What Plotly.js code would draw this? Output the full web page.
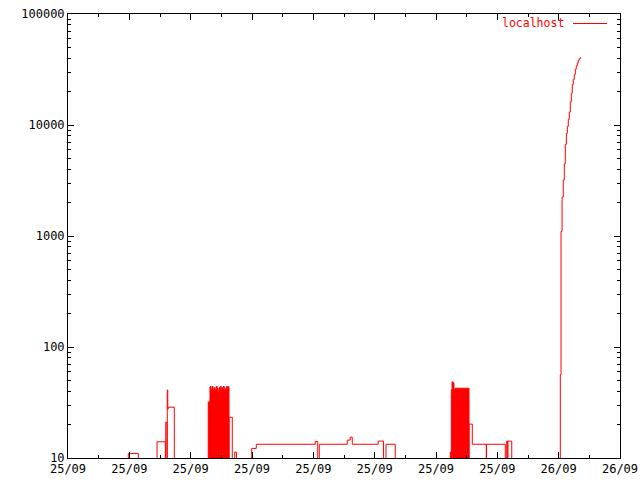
<!DOCTYPE html>
<html>
<head>
<meta charset="utf-8">
<script src="https://cdn.plot.ly/plotly-3.0.1.min.js"></script>
<style>html,body{margin:0;padding:0;background:#fff;}#chart{width:640px;height:480px;}</style>
</head>
<body>
<div id="chart"></div>
<script>
// Main step series (1 = idle / below axis)
const mainTimes = [
  "2023-09-25 22:40:00","2023-09-25 22:49:50","2023-09-25 22:51:28","2023-09-25 22:54:31",
  "2023-09-25 22:55:52","2023-09-25 22:55:56","2023-09-25 22:56:08","2023-09-25 22:56:11",
  "2023-09-25 22:56:16","2023-09-25 22:56:20","2023-09-25 22:57:20",
  "2023-09-25 23:06:15","2023-09-25 23:06:47","2023-09-25 23:07:11","2023-09-25 23:07:28",
  "2023-09-25 23:09:57","2023-09-25 23:10:42","2023-09-25 23:20:19","2023-09-25 23:20:43",
  "2023-09-25 23:20:58","2023-09-25 23:25:32","2023-09-25 23:26:01","2023-09-25 23:26:21",
  "2023-09-25 23:30:35","2023-09-25 23:31:26","2023-09-25 23:31:51","2023-09-25 23:33:21",
  "2023-09-25 23:45:23","2023-09-25 23:45:55","2023-09-25 23:48:12","2023-09-25 23:48:14",
  "2023-09-25 23:51:18","2023-09-25 23:51:32","2023-09-25 23:51:41","2023-09-25 23:51:43",
  "2023-09-25 23:52:21",
  "2023-09-26 00:00:16","2023-09-26 00:00:23","2023-09-26 00:00:33","2023-09-26 00:00:45",
  "2023-09-26 00:00:55","2023-09-26 00:01:05","2023-09-26 00:01:15","2023-09-26 00:01:25",
  "2023-09-26 00:01:34","2023-09-26 00:01:44","2023-09-26 00:01:54","2023-09-26 00:02:04",
  "2023-09-26 00:02:13","2023-09-26 00:02:23","2023-09-26 00:02:33","2023-09-26 00:02:43",
  "2023-09-26 00:02:52","2023-09-26 00:03:02","2023-09-26 00:03:12","2023-09-26 00:03:22",
  "2023-09-26 00:03:35","2023-09-26 00:03:40"
];
const mainValues = [
  1, 11, 1, 14,
  1, 21, 1, 41,
  27.6, 28.7, 1,
  23.3, 1, 11.3, 1,
  12.2, 13.3, 14.1, 1,
  13.3, 14.5, 15.4, 13.3,
  14.2, 1, 13.3, 1,
  20.2, 13.3, 1, 13.3,
  1, 14.2, 1, 14.2,
  1,
  56, 1100, 2240, 3200,
  4460, 6700, 8400, 9700,
  11250, 13100, 16200, 19300,
  23100, 25800, 28600, 31800,
  34000, 36200, 38300, 39900,
  40500, 40500
];

// Dense burst 1 (solid block)
const burst1Times = [
  "2023-09-25 23:02:52","2023-09-25 23:02:52","2023-09-25 23:03:09","2023-09-25 23:03:19",
  "2023-09-25 23:03:29","2023-09-25 23:03:39","2023-09-25 23:03:49","2023-09-25 23:03:59",
  "2023-09-25 23:04:09","2023-09-25 23:04:19","2023-09-25 23:04:29","2023-09-25 23:04:39",
  "2023-09-25 23:04:49","2023-09-25 23:04:59","2023-09-25 23:05:09","2023-09-25 23:05:19",
  "2023-09-25 23:05:29","2023-09-25 23:05:39","2023-09-25 23:05:49","2023-09-25 23:05:59",
  "2023-09-25 23:06:09","2023-09-25 23:06:15"
];
const burst1Values = [
  1, 32, 44, 41,
  44, 41, 43, 41,
  44, 42, 40, 43,
  44, 41, 43, 44,
  41, 42, 44, 42,
  44, 1
];

// Dense burst 2 (solid block)
const burst2Times = [
  "2023-09-25 23:42:20","2023-09-25 23:42:20","2023-09-25 23:42:30","2023-09-25 23:42:37",
  "2023-09-25 23:42:49","2023-09-25 23:42:56","2023-09-25 23:43:06","2023-09-25 23:44:00",
  "2023-09-25 23:45:00","2023-09-25 23:45:23"
];
const burst2Values = [1, 11.3, 41, 48.5, 47, 41, 42.5, 42.5, 42.5, 1];

const xTickVals = [
  "2023-09-25 22:40","2023-09-25 22:50","2023-09-25 23:00","2023-09-25 23:10","2023-09-25 23:20",
  "2023-09-25 23:30","2023-09-25 23:40","2023-09-25 23:50","2023-09-26 00:00","2023-09-26 00:10"
];
const xTickText = [
  "25/09<br>22:40","25/09<br>22:50","25/09<br>23:00","25/09<br>23:10","25/09<br>23:20",
  "25/09<br>23:30","25/09<br>23:40","25/09<br>23:50","26/09<br>00:00","26/09<br>00:10"
];
const yTickVals = [10, 100, 1000, 10000, 100000];
const yTickText = ["10", "100", "1000", "10000", "100000"];
const yMinorVals = [];
[10, 100, 1000, 10000].forEach(d => { for (let k = 2; k <= 9; k++) yMinorVals.push(d * k); });

const seriesName = "localhost";
const RED = "#ff0000";
const FONT = "DejaVu Sans Mono, monospace";

const traces = [
  {x: burst1Times, y: burst1Values, type: "scatter", mode: "lines",
   line: {shape: "hv", color: RED, width: 1}, fill: "toself", fillcolor: RED, showlegend: false, hoverinfo: "skip"},
  {x: burst2Times, y: burst2Values, type: "scatter", mode: "lines",
   line: {shape: "hv", color: RED, width: 1}, fill: "toself", fillcolor: RED, showlegend: false, hoverinfo: "skip"},
  {x: mainTimes, y: mainValues, type: "scatter", mode: "lines", name: seriesName,
   line: {shape: "hv", color: RED, width: 1}, showlegend: false}
];

const layout = {
  width: 640, height: 480,
  margin: {l: 68, r: 20, t: 14, b: 22, pad: 0},
  paper_bgcolor: "#ffffff", plot_bgcolor: "#ffffff",
  font: {family: FONT, size: 12, color: "#000000"},
  showlegend: false,
  xaxis: {
    type: "date",
    range: ["2023-09-25 22:40", "2023-09-26 00:10"],
    tickmode: "array", tickvals: xTickVals, ticktext: xTickText,
    ticks: "inside", ticklen: 6, tickcolor: "#000", tickwidth: 1,
    minor: {ticks: "inside", ticklen: 3, dtick: 300000, tick0: "2023-09-25 22:40", tickcolor: "#000", showgrid: false},
    showline: true, linecolor: "#000", linewidth: 1, mirror: "allticks",
    showgrid: false, zeroline: false, tickangle: 0,
    tickfont: {family: FONT, size: 12, color: "#000"}
  },
  yaxis: {
    type: "log",
    range: [1, 5],
    tickmode: "array", tickvals: yTickVals, ticktext: yTickText,
    ticks: "inside", ticklen: 6, tickcolor: "#000", tickwidth: 1,
    minor: {ticks: "inside", ticklen: 3, tickmode: "array", tickvals: yMinorVals, tickcolor: "#000", showgrid: false},
    showline: true, linecolor: "#000", linewidth: 1, mirror: "allticks",
    showgrid: false, zeroline: false,
    tickfont: {family: FONT, size: 12, color: "#000"}
  },
  annotations: [
    {xref: "paper", yref: "paper", x: (566 - 68) / 552, y: (458 - 23.5) / 444,
     xanchor: "right", yanchor: "middle", showarrow: false, text: seriesName,
     font: {family: FONT, size: 11.5, color: RED}}
  ],
  shapes: [
    {type: "line", xref: "paper", yref: "paper",
     x0: (573 - 68) / 552, x1: (607 - 68) / 552, y0: (458 - 23.5) / 444, y1: (458 - 23.5) / 444,
     line: {color: RED, width: 1}}
  ]
};

Plotly.newPlot("chart", traces, layout, {staticPlot: true, displayModeBar: false});
</script>
</body>
</html>
